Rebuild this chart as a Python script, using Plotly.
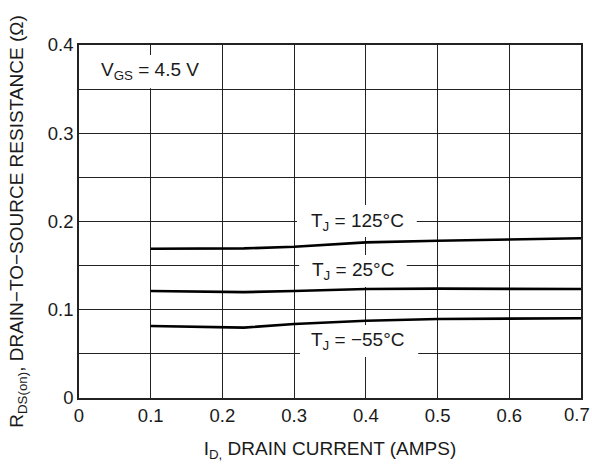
import plotly.graph_objects as go

# Data
id_amps = [0.1, 0.2, 0.23, 0.3, 0.4, 0.5, 0.6, 0.7]
r_125 = [0.1692, 0.1692, 0.1695, 0.1714, 0.1764, 0.1782, 0.1794, 0.1810]
r_25 = [0.1212, 0.1198, 0.1200, 0.1212, 0.1235, 0.1239, 0.1237, 0.1235]
r_m55 = [0.0816, 0.0805, 0.0797, 0.0839, 0.0876, 0.0895, 0.0900, 0.0903]

series_names = ["T<sub>J</sub> = 125°C", "T<sub>J</sub> = 25°C", "T<sub>J</sub> = −55°C"]
x_ticks = [0, 0.1, 0.2, 0.3, 0.4, 0.5, 0.6, 0.7]
x_ticktext = ["0", "0.1", "0.2", "0.3", "0.4", "0.5", "0.6", "0.7"]
y_ticks = [0, 0.05, 0.1, 0.15, 0.2, 0.25, 0.3, 0.35, 0.4]
y_ticktext = ["0", "", "0.1", "", "0.2", "", "0.3", "", "0.4"]

FONT = "Liberation Sans, Arial, sans-serif"
TXT = "#1a1a1a"
FS_TICK = 18.5
FS_TXT = 19

fig = go.Figure()
for ys in (r_125, r_25, r_m55):
    fig.add_trace(go.Scatter(x=id_amps, y=ys, mode="lines",
                             line=dict(color="black", width=2.6),
                             showlegend=False, hoverinfo="skip", cliponaxis=False))

# white label backgrounds (between grid and traces)
boxes = [
    (0.0126, 0.187, 0.351, 0.3887),
    (0.304, 0.471, 0.1824, 0.2187),
    (0.307, 0.457, 0.1258, 0.162),
    (0.308, 0.473, 0.0465, 0.0827),
]
for x0, x1, y0, y1 in boxes:
    fig.add_shape(type="rect", xref="x", yref="y", x0=x0, x1=x1, y0=y0, y1=y1,
                  fillcolor="white", line=dict(width=0), layer="between")

label_pos = [(0.388, 0.2), (0.382, 0.144), (0.389, 0.065)]
for name, (lx, ly) in zip(series_names, label_pos):
    fig.add_annotation(x=lx, y=ly, xref="x", yref="y", text=name, showarrow=False,
                       font=dict(family=FONT, size=FS_TXT, color=TXT))
fig.add_annotation(x=0.0985, y=0.370, xref="x", yref="y",
                   text="V<sub>GS</sub> = 4.5 V", showarrow=False,
                   font=dict(family=FONT, size=FS_TXT, color=TXT))

# last x tick label drawn separately so it stays inside the page edge
shown_x_text = x_ticktext[:-1] + [""]
fig.add_annotation(x=x_ticks[-1], y=0, xref="x", yref="y", text=x_ticktext[-1],
                   showarrow=False, xanchor="right", yanchor="top", xshift=11, yshift=-4,
                   font=dict(family=FONT, size=FS_TICK, color=TXT))

fig.update_layout(
    width=592, height=466,
    margin=dict(l=79, r=11, t=45, b=68),
    paper_bgcolor="white", plot_bgcolor="white",
    font=dict(family=FONT, size=FS_TXT, color=TXT),
    showlegend=False,
)
fig.update_xaxes(range=[0, 0.7], tickvals=x_ticks, ticktext=shown_x_text,
                 showgrid=True, gridcolor="#222", gridwidth=1.2,
                 showline=True, linecolor="#222", linewidth=1.5, mirror=True,
                 zeroline=False, ticks="", automargin=False, ticklabeloverflow="allow",
                 tickfont=dict(family=FONT, size=FS_TICK, color=TXT),
                 title=dict(text="I<sub>D,</sub> DRAIN CURRENT (AMPS)", standoff=17,
                            font=dict(family=FONT, size=FS_TXT, color=TXT)))
fig.update_yaxes(range=[0, 0.4], tickvals=y_ticks, ticktext=y_ticktext,
                 showgrid=True, gridcolor="#222", gridwidth=1.2,
                 showline=True, linecolor="#222", linewidth=1.5, mirror=True,
                 zeroline=False, ticks="", automargin=False, ticklabeloverflow="allow",
                 tickfont=dict(family=FONT, size=FS_TICK, color=TXT),
                 title=dict(text="R<sub>DS(on)</sub>, DRAIN−TO−SOURCE RESISTANCE (Ω)", standoff=19,
                            font=dict(family=FONT, size=FS_TXT, color=TXT)))

fig.write_html("out.html", config={"displayModeBar": False},
               post_script="document.body.style.margin='0px';document.body.style.padding='0px';")
